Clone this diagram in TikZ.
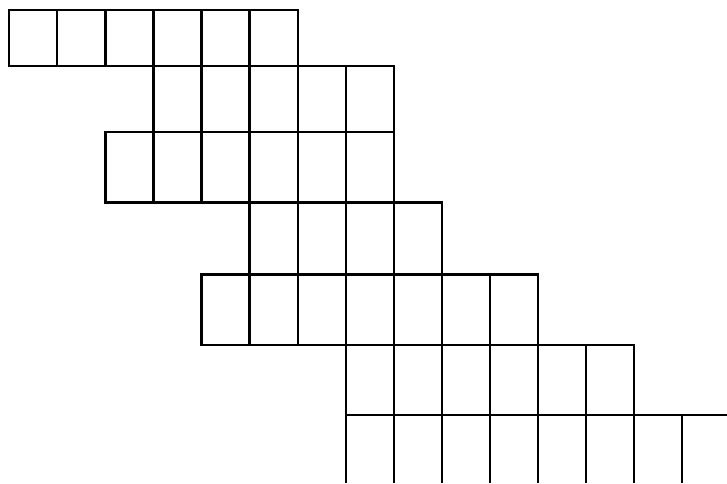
\documentclass[tikz,border=0pt]{standalone}
\begin{document}
\begin{tikzpicture}[x=1pt,y=-1pt,cell/.style={draw=black,line width=2.2pt}]
\useasboundingbox (0,0) rectangle (727,483);
\def\cw{48.05}
\def\xo{9.3}
\foreach \ya/\yb/\ca/\cb in {10.3/66.3/0/5, 66.3/132.3/3/7, 132.3/202.5/2/7, 202.5/274.5/5/8, 274.5/344.7/4/10, 344.7/414.7/7/12}{
  \foreach \c in {\ca,...,\cb}{
    \draw[cell] ({\xo+\c*\cw},\ya) rectangle ({\xo+(\c+1)*\cw},\yb);
  }
}
\draw[cell] ({\xo+7*\cw},414.7) -- (727,414.7);
\foreach \c in {7,...,14}{
  \draw[cell] ({\xo+\c*\cw},414.7) -- ({\xo+\c*\cw},483);
}
\end{tikzpicture}
\end{document}
